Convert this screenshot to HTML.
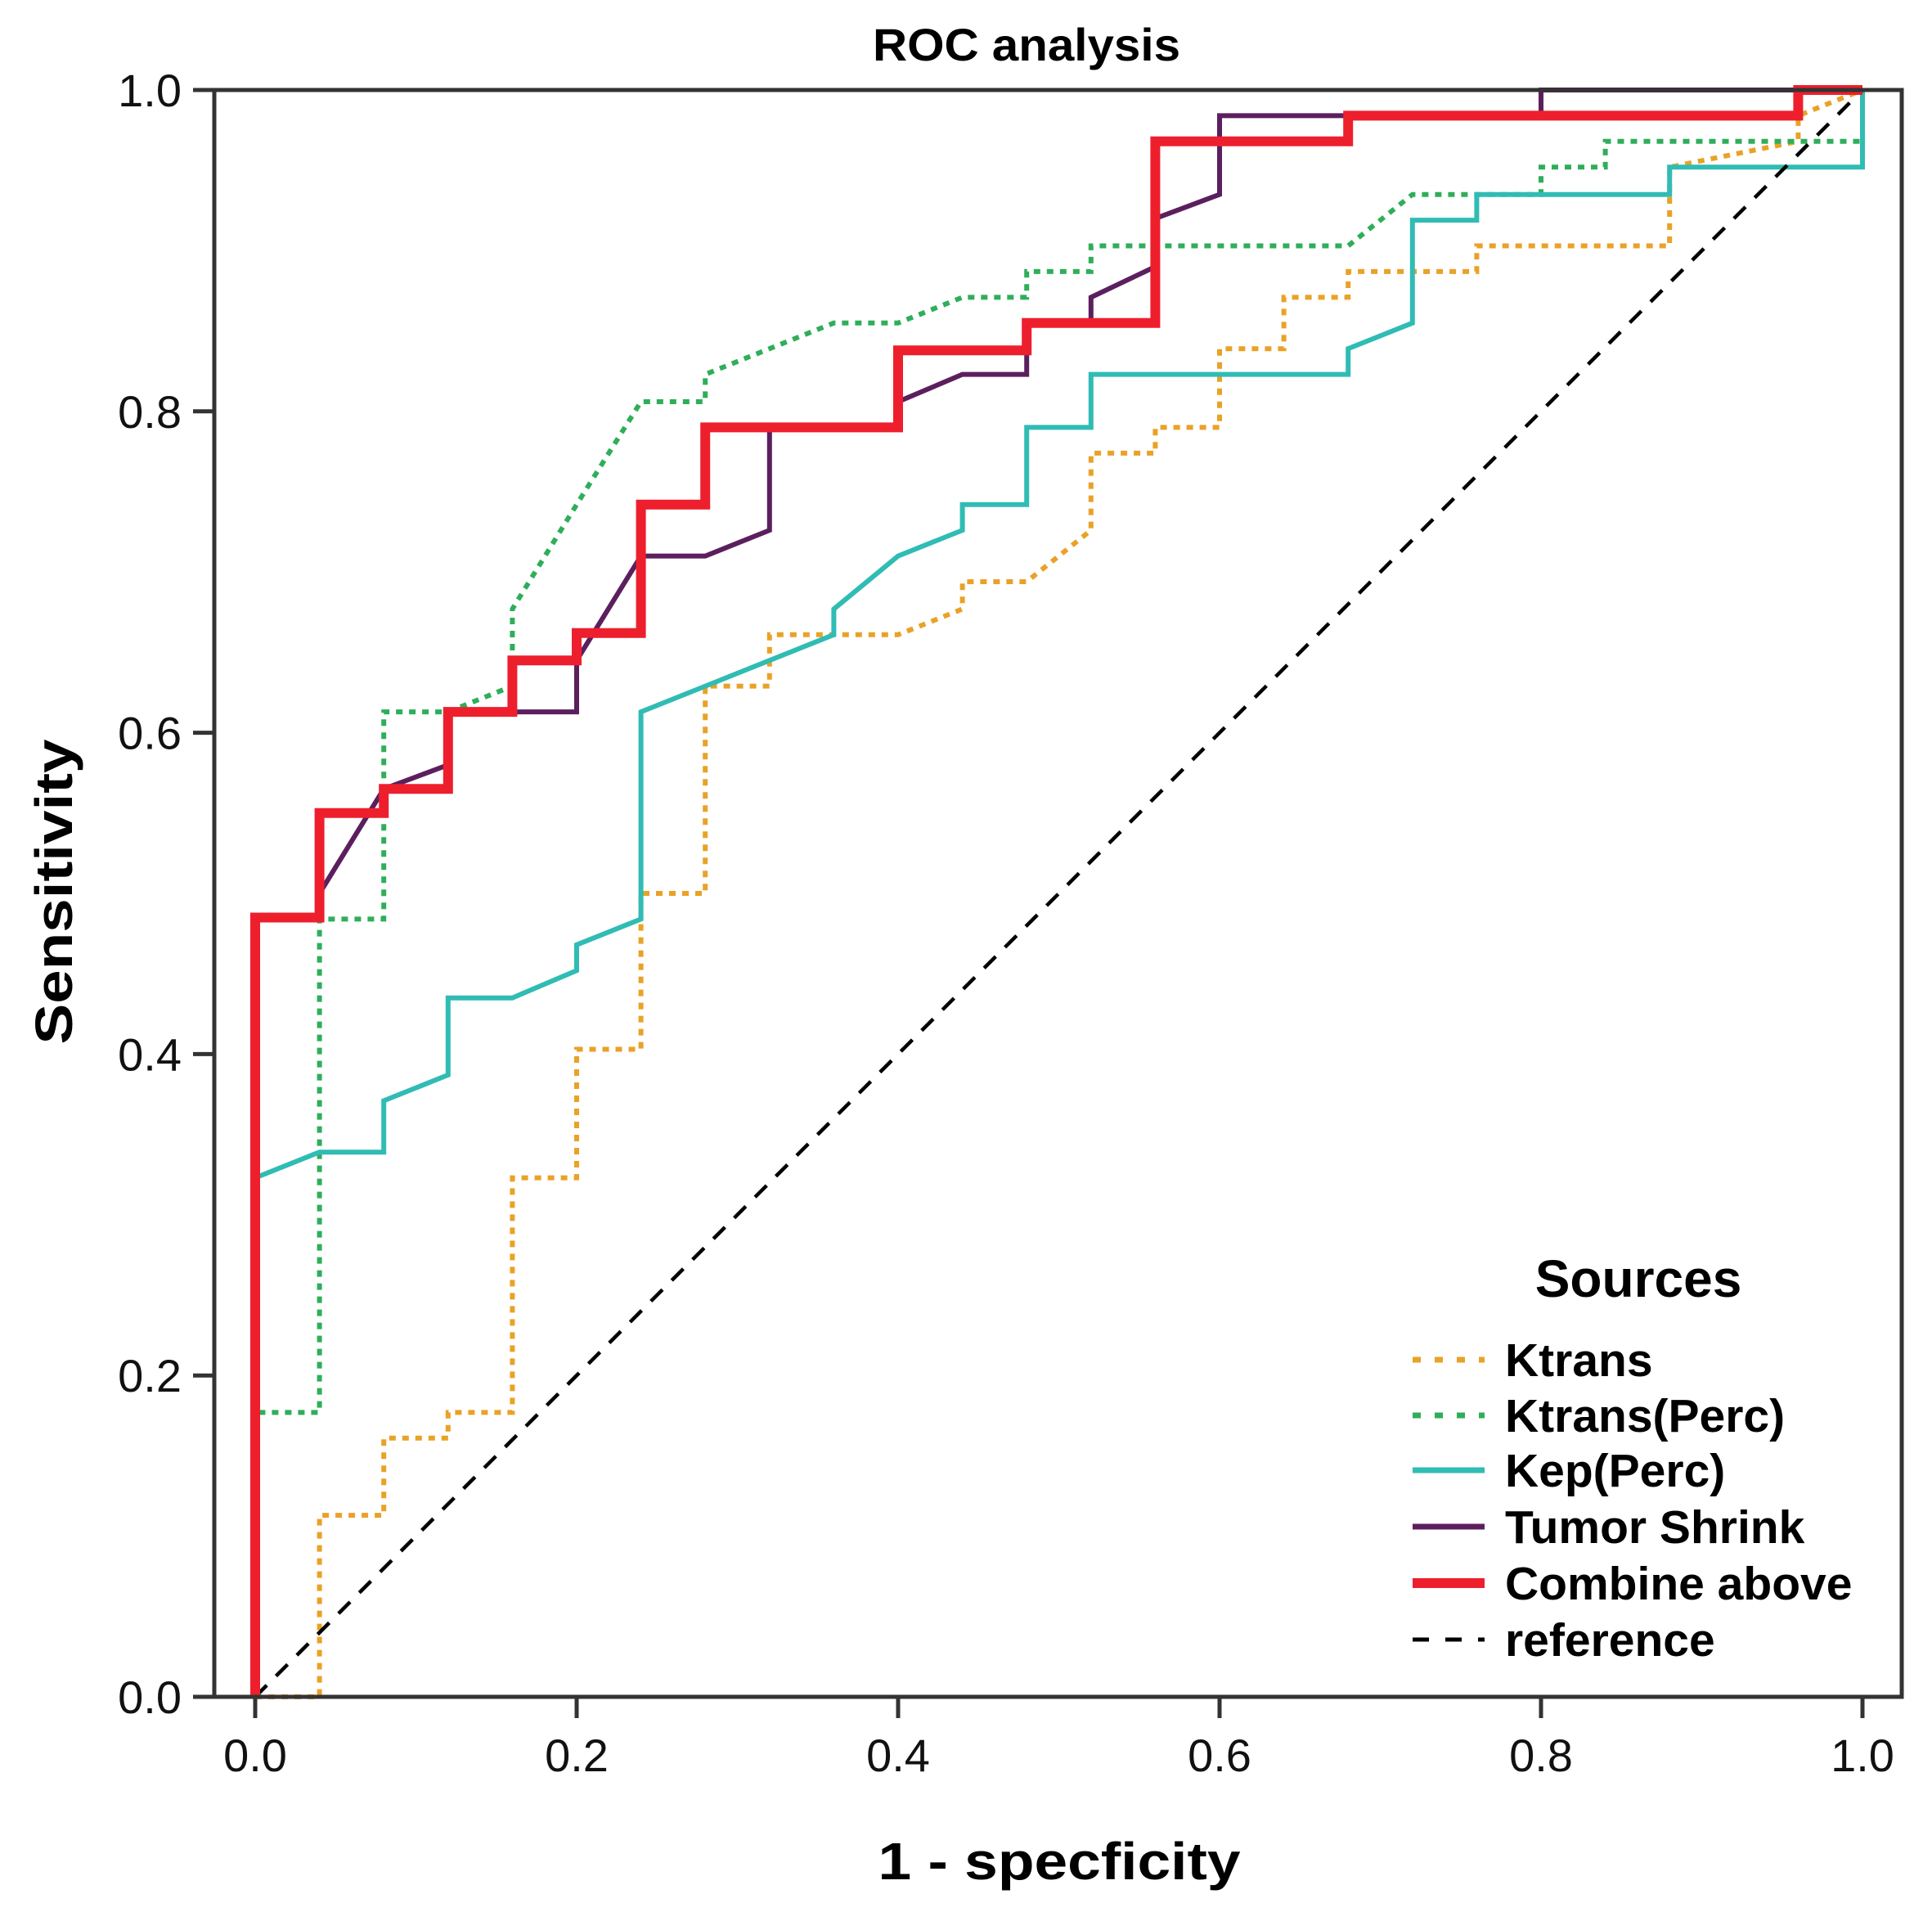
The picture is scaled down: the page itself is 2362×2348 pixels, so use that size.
<!DOCTYPE html>
<html><head><meta charset="utf-8"><style>
html,body{margin:0;padding:0;background:#fff;}
svg{display:block;font-family:"Liberation Sans",Arial,sans-serif;}
</style></head><body>
<svg id="chart" width="2362" height="2348" viewBox="0 0 2362 2348" xmlns="http://www.w3.org/2000/svg">
<text x="1255" y="74" text-anchor="middle" font-size="56" font-weight="bold" textLength="376" lengthAdjust="spacingAndGlyphs">ROC analysis</text>
<g id="plot"></g>
<g id="axes"></g>
<text x="1295" y="2297" text-anchor="middle" font-size="64" font-weight="bold" textLength="443" lengthAdjust="spacingAndGlyphs">1 - specficity</text>
<text transform="translate(88,1090) rotate(-90)" text-anchor="middle" font-size="64" font-weight="bold" textLength="373" lengthAdjust="spacingAndGlyphs">Sensitivity</text>
<g id="legend"></g>
</svg>
<script>
const xTicks = [0.0, 0.2, 0.4, 0.6, 0.8, 1.0];
const yTicks = [0.0, 0.2, 0.4, 0.6, 0.8, 1.0];
const tickLabels = ["0.0", "0.2", "0.4", "0.6", "0.8", "1.0"];
const seriesNames = ["Ktrans", "Ktrans(Perc)", "Kep(Perc)", "Tumor Shrink", "Combine above", "reference"];
const ktransX = [0,0.04,0.04,0.08,0.08,0.12,0.12,0.16,0.16,0.2,0.2,0.24,0.24,0.28,0.28,0.32,0.32,0.4,0.44,0.44,0.48,0.52,0.52,0.56,0.56,0.6,0.6,0.64,0.64,0.68,0.68,0.76,0.76,0.88,0.88,0.96,0.96,1];
const ktransY = [0,0,0.113,0.113,0.161,0.161,0.177,0.177,0.323,0.323,0.403,0.403,0.5,0.5,0.629,0.629,0.661,0.661,0.677,0.694,0.694,0.726,0.774,0.774,0.79,0.79,0.839,0.839,0.871,0.871,0.887,0.887,0.903,0.903,0.952,0.968,0.984,1];
const ktransPercX = [0,0,0.04,0.04,0.08,0.08,0.12,0.16,0.16,0.2,0.24,0.28,0.28,0.32,0.36,0.4,0.44,0.48,0.48,0.52,0.52,0.68,0.72,0.8,0.8,0.84,0.84,1,1];
const ktransPercY = [0,0.177,0.177,0.484,0.484,0.613,0.613,0.629,0.677,0.742,0.806,0.806,0.823,0.839,0.855,0.855,0.871,0.871,0.887,0.887,0.903,0.903,0.935,0.935,0.952,0.952,0.968,0.968,1];
const kepX = [0,0,0.04,0.08,0.08,0.12,0.12,0.16,0.2,0.2,0.24,0.24,0.36,0.36,0.4,0.44,0.44,0.48,0.48,0.52,0.52,0.68,0.68,0.72,0.72,0.76,0.76,0.88,0.88,1,1];
const kepY = [0,0.323,0.339,0.339,0.371,0.387,0.435,0.435,0.452,0.468,0.484,0.613,0.661,0.677,0.71,0.726,0.742,0.742,0.79,0.79,0.823,0.823,0.839,0.855,0.919,0.919,0.935,0.935,0.952,0.952,1];
const tumorX = [0,0,0.04,0.04,0.08,0.12,0.12,0.2,0.2,0.24,0.28,0.32,0.32,0.4,0.4,0.44,0.48,0.48,0.52,0.52,0.56,0.56,0.6,0.6,0.8,0.8,1];
const tumorY = [0,0.485,0.485,0.5,0.565,0.58,0.613,0.613,0.645,0.71,0.71,0.726,0.79,0.79,0.806,0.823,0.823,0.855,0.855,0.871,0.89,0.92,0.935,0.984,0.984,1,1];
const combineX = [0,0,0.04,0.04,0.08,0.08,0.12,0.12,0.16,0.16,0.2,0.2,0.24,0.24,0.28,0.28,0.4,0.4,0.48,0.48,0.56,0.56,0.68,0.68,0.96,0.96,1];
const combineY = [0,0.485,0.485,0.55,0.55,0.565,0.565,0.613,0.613,0.645,0.645,0.662,0.662,0.742,0.742,0.79,0.79,0.838,0.838,0.855,0.855,0.968,0.968,0.984,0.984,1,1];
const refX = [0,1];
const refY = [0,1];

const NS = "http://www.w3.org/2000/svg";
const X0 = 312, X1 = 2277, Y0 = 2074, Y1 = 110;
function sx(v){ return X0 + v*(X1-X0); }
function sy(v){ return Y0 - v*(Y0-Y1); }
function mk(tag, attrs, parent){
  const e = document.createElementNS(NS, tag);
  for (const k in attrs) e.setAttribute(k, attrs[k]);
  parent.appendChild(e);
  return e;
}
const plot = document.getElementById('plot');
const axes = document.getElementById('axes');
const legend = document.getElementById('legend');

const frame = mk('rect', {x:262, y:110, width:2063, height:1964, fill:'none', stroke:'#333', 'stroke-width':5}, axes);



xTicks.forEach((v,i)=>{
  const t = mk('line', {x1:sx(v), x2:sx(v), y1:2074, y2:2100, stroke:'#333', 'stroke-width':5}, axes);
  
  
  const l = mk('text', {x:sx(v), y:2165, 'text-anchor':'middle', 'font-size':56, fill:'#111'}, axes);
  l.textContent = tickLabels[i];
  
  
});
yTicks.forEach((v,i)=>{
  const t = mk('line', {x1:236, x2:262, y1:sy(v), y2:sy(v), stroke:'#333', 'stroke-width':5}, axes);
  
  
  const l = mk('text', {x:222, y:sy(v)+20, 'text-anchor':'end', 'font-size':56, fill:'#111'}, axes);
  l.textContent = tickLabels[i];
  
  
});

const styles = [
  {xs:ktransX, ys:ktransY, color:'#e9a227', w:6, dash:'8 8', name:'ktrans-line'},
  {xs:ktransPercX, ys:ktransPercY, color:'#2fae5a', w:6, dash:'8 8', name:'ktrans-perc-line'},
  {xs:kepX, ys:kepY, color:'#30bcb4', w:6, dash:'', name:'kep-perc-line'},
  {xs:tumorX, ys:tumorY, color:'#5c1f5e', w:6, dash:'', name:'tumor-shrink-line'},
  {xs:refX, ys:refY, color:'#000', w:4.5, dash:'20 16', name:'reference-line'},
  {xs:combineX, ys:combineY, color:'#ee1f2d', w:12, dash:'', name:'combine-above-line'}
];
styles.forEach(s=>{
  const d = s.xs.map((x,i)=>(i?'L':'M')+sx(x).toFixed(1)+' '+sy(s.ys[i]).toFixed(1)).join(' ');
  const p = mk('path', {d:d, fill:'none', stroke:s.color, 'stroke-width':s.w, 'stroke-linejoin':'miter'}, plot);
  if (s.dash) p.setAttribute('stroke-dasharray', s.dash);
  
  
});

const lt = mk('text', {x:2003, y:1585, 'text-anchor':'middle', 'font-size':64, 'font-weight':'bold'}, legend);
lt.textContent = 'Sources';


const legRows = [1662, 1730, 1797, 1866, 1935, 2004];
const legStyle = [
  {color:'#e9a227', w:7, dash:'10 17'},
  {color:'#2fae5a', w:7, dash:'10 17'},
  {color:'#30bcb4', w:7, dash:''},
  {color:'#5c1f5e', w:7, dash:''},
  {color:'#ee1f2d', w:12, dash:''},
  {color:'#000', w:5, dash:'20 20'}
];
seriesNames.forEach((n,i)=>{
  const y = legRows[i];
  const ln = mk('line', {x1:1727, x2:1815, y1:y, y2:y, stroke:legStyle[i].color, 'stroke-width':legStyle[i].w}, legend);
  if (legStyle[i].dash) ln.setAttribute('stroke-dasharray', legStyle[i].dash);
  
  
  const tx = mk('text', {x:1840, y:y+20, 'font-size':57, 'font-weight':'bold'}, legend);
  tx.textContent = n;
  
  
});
</script>
</body></html>
